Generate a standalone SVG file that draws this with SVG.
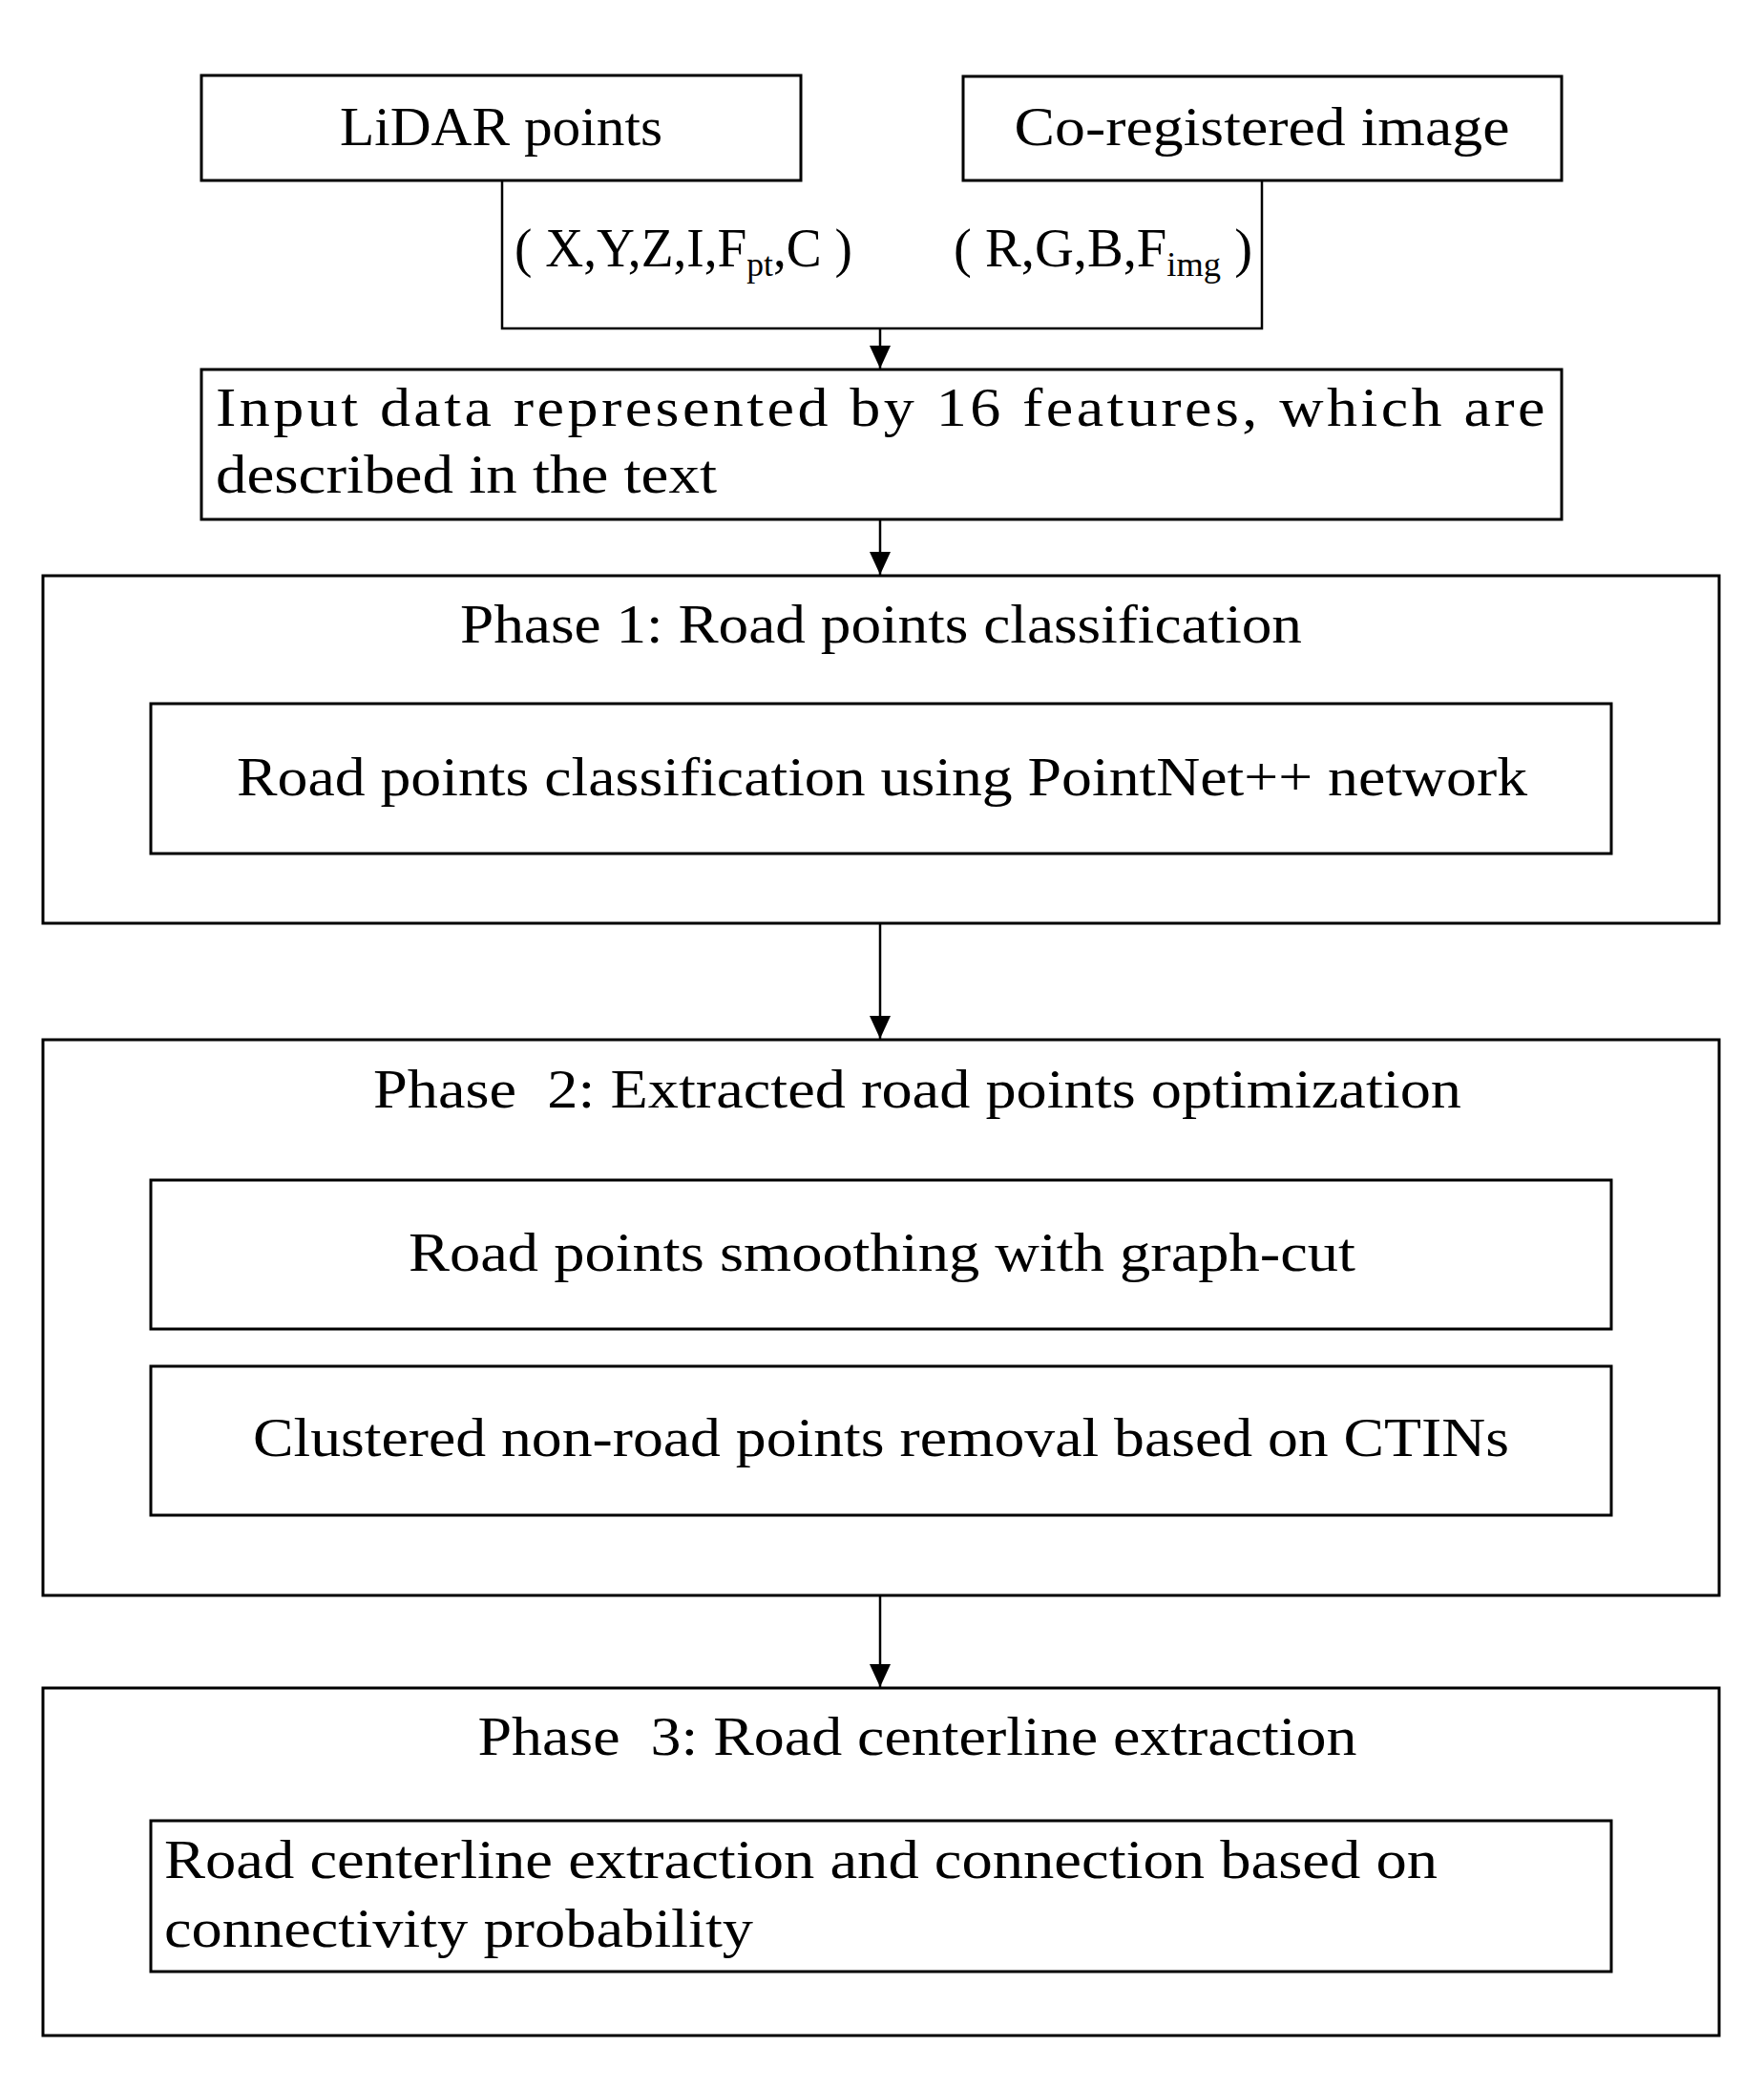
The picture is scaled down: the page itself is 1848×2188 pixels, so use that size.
<svg xmlns="http://www.w3.org/2000/svg" width="1848" height="2188" viewBox="0 0 1848 2188">
<style>
rect.b{fill:none;stroke:#000;stroke-width:3}
text{font-family:"Liberation Serif","Times New Roman",serif;font-size:56px;fill:#000}
.c{text-anchor:middle}
.sub{font-size:36px}
path.l{fill:none;stroke:#000;stroke-width:2.5}
</style>
<defs>
<marker id="ah" markerUnits="userSpaceOnUse" markerWidth="24" markerHeight="32" refX="24" refY="11" orient="auto" viewBox="0 0 24 22">
<path d="M0,0 L24,11 L0,22 Z" fill="#000"/>
</marker>
</defs>
<rect width="1848" height="2188" fill="#fff"/>
<g id="lidar">
<rect class="b" x="211" y="79" width="628" height="110"/>
<text class="c" x="525" y="152" textLength="338" lengthAdjust="spacingAndGlyphs">LiDAR points</text>
</g>
<g id="image">
<rect class="b" x="1009" y="80" width="627" height="109"/>
<text class="c" x="1322" y="152" textLength="519" lengthAdjust="spacingAndGlyphs">Co-registered image</text>
</g>
<g id="features">
<text x="539" y="279" textLength="354" lengthAdjust="spacingAndGlyphs">( X,Y,Z,I,F<tspan class="sub" dy="10">pt</tspan><tspan dy="-10">,C )</tspan></text>
<text x="999" y="279" textLength="313" lengthAdjust="spacingAndGlyphs">( R,G,B,F<tspan class="sub" dy="10">img</tspan><tspan dy="-10"> )</tspan></text>
</g>
<g id="input">
<rect class="b" x="211" y="387" width="1425" height="157"/>
<text x="226" y="446" letter-spacing="3" textLength="1396" lengthAdjust="spacingAndGlyphs">Input data represented by 16 features, which are</text>
<text x="226" y="516" textLength="525" lengthAdjust="spacingAndGlyphs">described in the text</text>
</g>
<g id="phase1">
<rect class="b" x="45" y="603" width="1756" height="364"/>
<text class="c" x="923" y="673" textLength="882" lengthAdjust="spacingAndGlyphs">Phase 1: Road points classification</text>
</g>
<g id="classify">
<rect class="b" x="158" y="737" width="1530" height="157"/>
<text class="c" x="924" y="833" textLength="1352" lengthAdjust="spacingAndGlyphs">Road points classification using PointNet++ network</text>
</g>
<g id="phase2">
<rect class="b" x="45" y="1089" width="1756" height="582"/>
<text class="c" x="961" y="1160" textLength="1140" lengthAdjust="spacingAndGlyphs" xml:space="preserve">Phase  2: Extracted road points optimization</text>
</g>
<g id="smoothing">
<rect class="b" x="158" y="1236" width="1530" height="156"/>
<text class="c" x="924" y="1331" textLength="992" lengthAdjust="spacingAndGlyphs">Road points smoothing with graph-cut</text>
</g>
<g id="removal">
<rect class="b" x="158" y="1431" width="1530" height="156"/>
<text class="c" x="923" y="1525" textLength="1316" lengthAdjust="spacingAndGlyphs">Clustered non-road points removal based on CTINs</text>
</g>
<g id="phase3">
<rect class="b" x="45" y="1768" width="1756" height="364"/>
<text class="c" x="961" y="1838" textLength="921" lengthAdjust="spacingAndGlyphs" xml:space="preserve">Phase  3: Road centerline extraction</text>
</g>
<g id="centerline">
<rect class="b" x="158" y="1907" width="1530" height="158"/>
<text x="172" y="1967" textLength="1334" lengthAdjust="spacingAndGlyphs">Road centerline extraction and connection based on</text>
<text x="172" y="2039" textLength="617" lengthAdjust="spacingAndGlyphs">connectivity probability</text>
</g>
<g id="connectors">
<path class="l" d="M526,189 V344 H1322 V189"/>
<path class="l" d="M922,344 V386" marker-end="url(#ah)"/>
<path class="l" d="M922,544 V602" marker-end="url(#ah)"/>
<path class="l" d="M922,967 V1088" marker-end="url(#ah)"/>
<path class="l" d="M922,1671 V1767" marker-end="url(#ah)"/>
</g>
</svg>
